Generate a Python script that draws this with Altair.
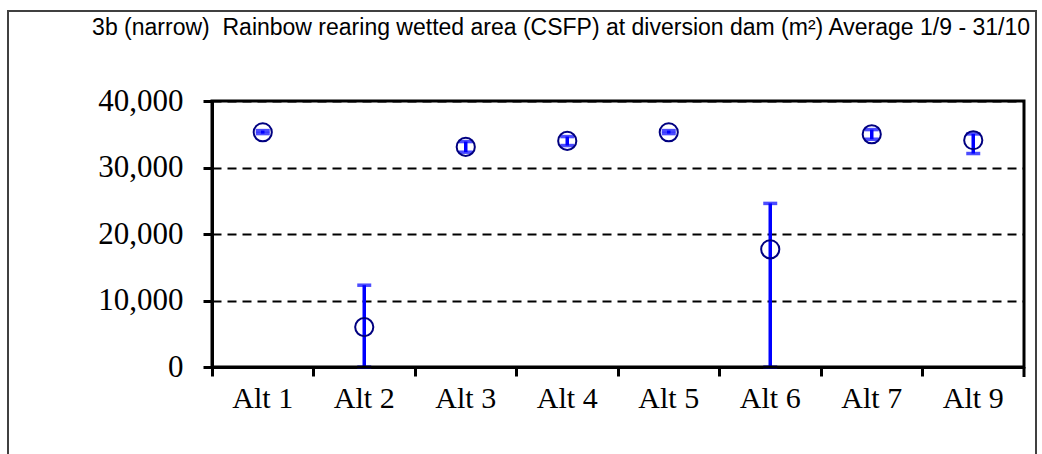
import altair as alt
import pandas as pd

categories = ["Alt 1", "Alt 2", "Alt 3", "Alt 4", "Alt 5", "Alt 6", "Alt 7", "Alt 9"]
mean_vals = [35300, 6000, 33100, 34000, 35300, 17700, 35000, 34100]
low_vals = [35100, 0, 32300, 33300, 35100, 0, 34250, 32100]
high_vals = [35550, 12300, 33900, 34650, 35550, 24600, 35700, 35050]
y_ticks = [0, 10000, 20000, 30000, 40000]

title_text = "3b (narrow) \u00a0Rainbow rearing wetted area (CSFP) at diversion dam (m\u00b2) Average 1/9 - 31/10"

df = pd.DataFrame({"alt": categories, "mean": mean_vals, "lo": low_vals, "hi": high_vals})

W, H = 812, 266

x_enc = alt.X(
    "alt:N",
    sort=categories,
    scale=alt.Scale(paddingInner=0, paddingOuter=0),
    axis=alt.Axis(
        title=None,
        bandPosition=0,
        labelAngle=0,
        labelFont="Liberation Serif",
        labelFontSize=30,
        labelColor="black",
        labelPadding=7,
        tickSize=9,
        tickWidth=3,
        tickColor="black",
        domainColor="black",
        domainWidth=3,
        grid=False,
    ),
)

y_scale = alt.Scale(domain=[0, 40000], nice=False)
y_axis = alt.Axis(
    title=None,
    values=y_ticks,
    format=",d",
    labelFont="Liberation Serif",
    labelFontSize=31,
    labelColor="black",
    labelPadding=20,
    tickSize=9,
    tickWidth=3,
    tickColor="black",
    domainColor="black",
    domainWidth=3,
    grid=True,
    gridColor="black",
    gridDash=[9, 6],
    gridWidth=2,
)

base = alt.Chart(df)

bars = base.mark_rule(color="#0000FF", strokeWidth=3.5).encode(
    x=x_enc,
    y=alt.Y("lo:Q", scale=y_scale, axis=y_axis),
    y2="hi:Q",
)

caps_lo = base.mark_tick(color="#0000FF", thickness=3.5, size=14, orient="horizontal").encode(
    x=alt.X("alt:N", sort=categories), y=alt.Y("lo:Q", scale=y_scale)
)
caps_hi = base.mark_tick(color="#0000FF", thickness=3.5, size=14, orient="horizontal").encode(
    x=alt.X("alt:N", sort=categories), y=alt.Y("hi:Q", scale=y_scale)
)

points = base.mark_point(
    shape="circle", size=330, filled=False, color="#000080", strokeWidth=2, opacity=1
).encode(x=alt.X("alt:N", sort=categories), y=alt.Y("mean:Q", scale=y_scale))

one = pd.DataFrame({"a": [0]})

# right-end x tick (category boundary)
end_tick = alt.Chart(one).mark_rule(color="black", strokeWidth=3).encode(
    x=alt.value(W), y=alt.value(H), y2=alt.value(H + 10)
)

# plot border (top and right)
border = alt.Chart(one).mark_rect(fill=None, stroke="black", strokeWidth=3).encode(
    x=alt.value(0), x2=alt.value(W), y=alt.value(0), y2=alt.value(H)
)

# outer frame of the chart
frame = alt.Chart(one).mark_rect(fill=None, stroke="#404040", strokeWidth=2).encode(
    x=alt.value(-204), x2=alt.value(824), y=alt.value(-90), y2=alt.value(400)
)

title = alt.Chart(one).mark_text(
    text=title_text,
    font="Liberation Sans",
    fontSize=23,
    color="black",
    align="right",
    baseline="alphabetic",
).encode(x=alt.value(W + 6), y=alt.value(-66))

chart = (
    alt.layer(frame, bars, caps_lo, caps_hi, points, end_tick, border, title)
    .properties(
        width=W,
        height=H,
        autosize=alt.AutoSizeParams(type="none"),
        padding={"left": 212, "top": 101, "right": 18, "bottom": 87},
    )
    .configure_view(stroke=None)
    .configure(background="white")
)

chart.save("out.html", embed_options={"renderer": "svg", "actions": False})
